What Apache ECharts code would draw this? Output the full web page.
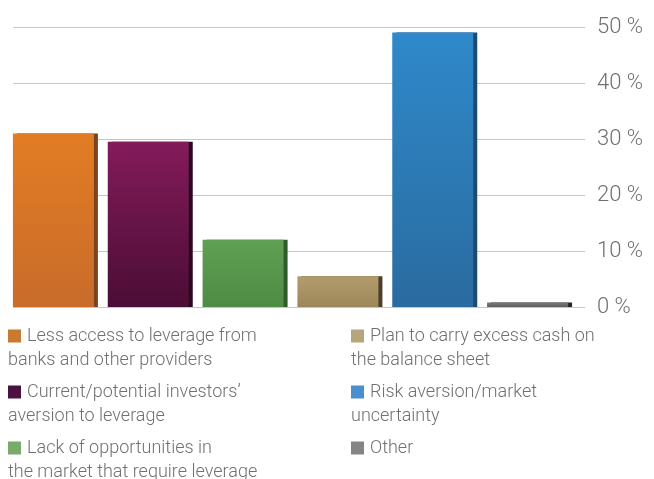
<!DOCTYPE html>
<html>
<head>
<meta charset="utf-8">
<script src="https://cdn.jsdelivr.net/npm/echarts@6/dist/echarts.min.js"></script>
<style>
  html, body { margin: 0; padding: 0; background: #ffffff; }
  #chart { width: 654px; height: 479px; }
</style>
</head>
<body>
<div id="chart"></div>
<script>
// Reasons for not using leverage (share of respondents, %)
const categories = [
  'Less access to leverage from banks and other providers',
  'Current/potential investors’ aversion to leverage',
  'Lack of opportunities in the market that require leverage',
  'Plan to carry excess cash on the balance sheet',
  'Risk aversion/market uncertainty',
  'Other'
];
const values = [31, 29.5, 12, 5.5, 49, 0.8];

// Legend wording, broken over two lines
const legendLines = [
  ['Less access to leverage from', 'banks and other providers'],
  ['Current/potential investors’', 'aversion to leverage'],
  ['Lack of opportunities in', 'the market that require leverage'],
  ['Plan to carry excess cash on', 'the balance sheet'],
  ['Risk aversion/market', 'uncertainty'],
  ['Other']
];

const yTicks = [0, 10, 20, 30, 40, 50];

// Bar shading: top colour, bottom colour, dark right edge; plus the legend swatch
const barTop    = ['#e27c24', '#841b5a', '#5fa053', '#b39c6c', '#2f89ca', '#7a7a7a'];
const barBottom = ['#c96c2b', '#4a0d35', '#4e8b44', '#9d865a', '#2a6ba0', '#5c5c5c'];
const barEdge   = ['#7a4420', '#2a0820', '#2f5a2a', '#4c3e2a', '#1b4a72', '#262626'];
const swatch    = ['#c97a2e', '#4b1241', '#7aaa6a', '#b5a47c', '#4a8fcf', '#858585'];

const FONT = 'Roboto, "Liberation Sans", sans-serif';
const TEXT = '#707070';

const chart = echarts.init(document.getElementById('chart'), null, { renderer: 'canvas' });

const rich = {};
swatch.forEach((c, i) => {
  rich['m' + i] = { width: 13, height: 13, backgroundColor: c };
});
rich.g = { width: 6 };

function legendFormatter(name) {
  const i = categories.indexOf(name);
  const lines = legendLines[i];
  return '{m' + i + '|}{g|}' + lines.join('\n');
}

function makeLegend(names, left) {
  return {
    data: names,
    orient: 'vertical',
    left: left,
    top: 324,
    width: 300,
    height: 200,
    icon: 'none',
    itemWidth: 0,
    itemHeight: 0,
    itemGap: 8,
    padding: 0,
    selectedMode: false,
    formatter: legendFormatter,
    textStyle: {
      fontFamily: FONT,
      fontWeight: 300,
      fontSize: 18,
      lineHeight: 24,
      color: TEXT,
      rich: rich
    }
  };
}

const option = {
  backgroundColor: '#ffffff',
  animation: false,
  grid: [
    // scale, gridlines and tick labels
    { left: 13, right: 69, top: 27, bottom: 172 },
    // bars, whose base sits a little below the zero line
    { left: 6, right: 79, top: 27, bottom: 165 }
  ],
  xAxis: [
    { gridIndex: 0, type: 'category', data: categories, show: false },
    { gridIndex: 1, type: 'category', data: categories, show: false }
  ],
  yAxis: [
    {
      gridIndex: 0,
      type: 'value',
      position: 'right',
      min: yTicks[0],
      max: yTicks[yTicks.length - 1],
      interval: 10,
      axisLine: { show: false },
      axisTick: { show: false },
      splitLine: { show: true, lineStyle: { color: '#c6c6c6', width: 1 } },
      axisLabel: {
        margin: 12,
        fontFamily: FONT,
        fontWeight: 300,
        fontSize: 22,
        color: TEXT,
        formatter: v => v + ' %'
      }
    },
    {
      gridIndex: 1,
      type: 'value',
      min: -1.25,
      max: 50,
      show: false,
      splitLine: { show: false }
    }
  ],
  legend: [
    makeLegend(categories.slice(0, 3), 3),
    makeLegend(categories.slice(3), 346)
  ],
  series: categories.map((name, i) => ({
    name: name,
    type: 'bar',
    xAxisIndex: 1,
    yAxisIndex: 1,
    stack: 'all',
    barWidth: 81,
    color: swatch[i],
    data: categories.map((_, j) => (j === i ? values[i] : '-')),
    itemStyle: {
      color: new echarts.graphic.LinearGradient(0, 0, 0, 1, [
        { offset: 0, color: barTop[i] },
        { offset: 1, color: barBottom[i] }
      ]),
      shadowColor: barEdge[i],
      shadowBlur: 0,
      shadowOffsetX: 4,
      shadowOffsetY: 0
    }
  }))
};

chart.setOption(option);
</script>
</body>
</html>
